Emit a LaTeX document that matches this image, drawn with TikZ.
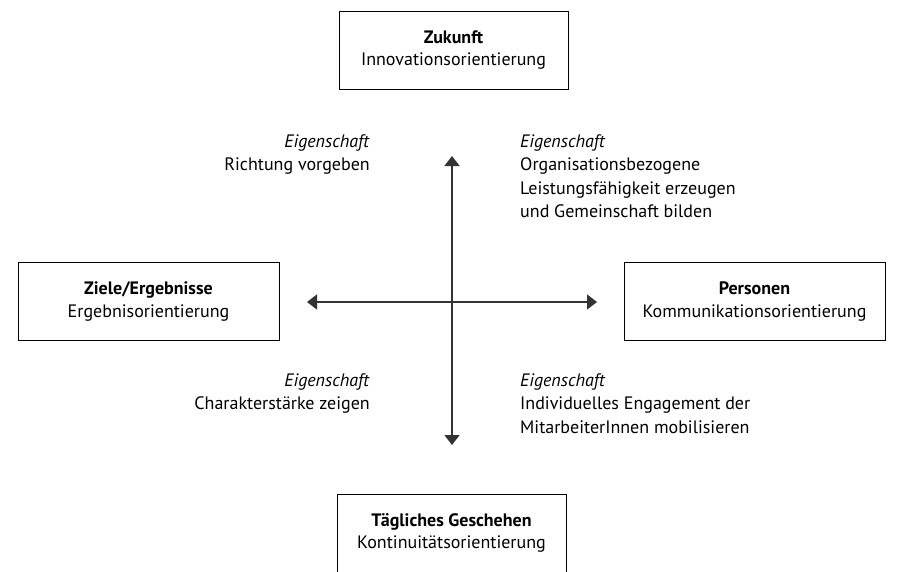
\documentclass[tikz,border=0pt]{standalone}
\usepackage{fontspec}
\setmainfont{PT Sans}
\usetikzlibrary{arrows.meta}
\begin{document}
\begin{tikzpicture}[x=1pt,y=-1pt,
  box/.style={draw=black,line width=1pt,minimum width=229pt,minimum height=78pt,align=center,inner sep=0pt,font=\fontsize{18}{22.5}\selectfont},
  wbox/.style={box,minimum width=261pt},
  lbl/.style={align=left,anchor=north west,inner sep=0pt,font=\fontsize{18}{23.5}\selectfont},
  rlbl/.style={align=right,anchor=north east,inner sep=0pt,font=\fontsize{18}{23.5}\selectfont},
  axis/.style={draw=black!80,line width=1.5pt,{Triangle[width=15pt,length=10pt]}-{Triangle[width=15pt,length=10pt]}}]
\useasboundingbox (0,0) rectangle (899,571);
\node[box] (top) at (453.5,50) {\textbf{Zukunft}\\Innovationsorientierung};
\node[wbox] (left) at (148.5,301.5) {\textbf{Ziele/Ergebnisse}\\Ergebnisorientierung};
\node[wbox] (right) at (754.5,301.5) {\textbf{Personen}\\Kommunikationsorientierung};
\node[box] (bottom) at (451.5,533) {\textbf{Tägliches Geschehen}\\Kontinuitätsorientierung};
\coordinate (vt) at (452,156);
\coordinate (vb) at (452,445);
\coordinate (hl) at (307,302);
\coordinate (hr) at (597,302);
\draw[axis] (vt) -- (vb);
\draw[axis] (hl) -- (hr);
\node[rlbl] (tl) at (370,134) {\textit{Eigenschaft}\\Richtung vorgeben};
\node[lbl] (tr) at (520,134) {\textit{Eigenschaft}\\Organisationsbezogene\\Leistungsfähigkeit erzeugen\\und Gemeinschaft bilden};
\node[rlbl] (bl) at (370,373) {\textit{Eigenschaft}\\Charakterstärke zeigen};
\node[lbl] (br) at (520,373) {\textit{Eigenschaft}\\Individuelles Engagement der\\MitarbeiterInnen mobilisieren};
\end{tikzpicture}
\end{document}
